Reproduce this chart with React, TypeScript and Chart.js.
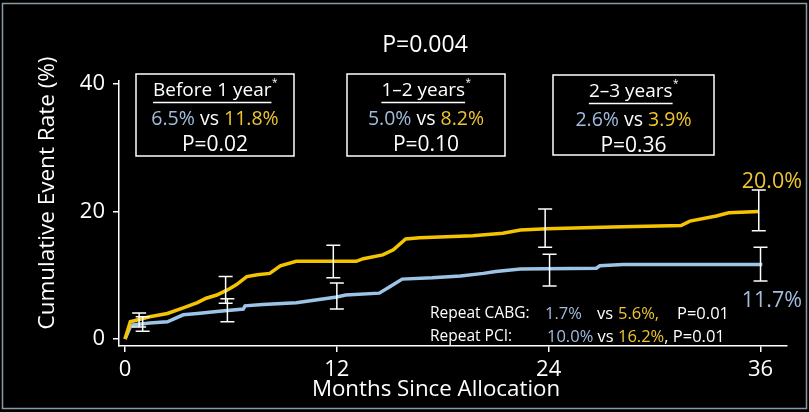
import React, { useEffect, useRef } from "react";
import { Chart, registerables } from "chart.js";

Chart.register(...registerables);

// ---- data ----
const yellowMonths = [0, 0.3, 1.4, 2.4, 3.3, 4.1, 4.6, 5.2, 5.8, 6.3, 6.9, 7.5, 8.2, 8.8, 9.7, 13.1, 13.5, 14.6, 15.2, 15.9, 16.7, 19.7, 21.4, 22.4, 23.9, 27.6, 31.5, 32.0, 33.5, 34.2, 35.9];
const yellowRates = [0, 2.7, 3.5, 4.0, 4.9, 5.7, 6.4, 6.9, 7.7, 8.5, 9.8, 10.1, 10.3, 11.5, 12.2, 12.2, 12.6, 13.2, 14.0, 15.7, 15.9, 16.2, 16.6, 17.1, 17.3, 17.6, 17.8, 18.5, 19.3, 19.8, 20.0];

const blueMonths = [0, 0.3, 0.45, 1.4, 2.4, 3.3, 4.1, 5.2, 6.7, 6.8, 7.8, 9.7, 12.0, 12.5, 14.4, 15.0, 15.7, 17.4, 19.0, 20.3, 21.0, 22.4, 26.7, 26.9, 28.2, 36.1];
const blueRates = [0, 1.9, 2.2, 2.5, 2.7, 3.8, 4.0, 4.3, 4.7, 5.2, 5.4, 5.7, 6.6, 6.9, 7.2, 8.2, 9.4, 9.6, 9.9, 10.3, 10.6, 11.0, 11.1, 11.5, 11.7, 11.7];

const yellowErrMonths = [0.8, 5.7, 11.8, 23.8, 35.9];
const yellowErrLow = [1.9, 5.6, 9.6, 14.4, 17.0];
const yellowErrHigh = [4.1, 9.8, 14.7, 20.4, 23.4];

const blueErrMonths = [1.0, 5.8, 12.0, 24.05, 36.0];
const blueErrLow = [1.2, 2.7, 4.7, 8.3, 9.1];
const blueErrHigh = [3.5, 6.3, 8.8, 13.3, 14.4];

const xTicks = [0, 12, 24, 36];
const yTicks = [0, 20, 40];

const boxHeadings = ["Before 1 year", "1\u20132 years", "2\u20133 years"];
const boxBlue = ["6.5%", "5.0%", "2.6%"];
const boxYellow = ["11.8%", "8.2%", "3.9%"];
const boxP = ["P=0.02", "P=0.10", "P=0.36"];

const YELLOW = "#F5C400";
const BLUE = "#9DC3E6";
const YELLOW_TXT = "#EEC530";
const BLUE_TXT = "#A2BCDD";
const FONT = "'Open Sans', Lato, sans-serif";

export default function App() {
  const ref = useRef<HTMLCanvasElement | null>(null);

  useEffect(() => {
    document.body.style.margin = "0";
    const canvas = ref.current!;

    const bgPlugin = {
      id: "bg",
      beforeDraw(chart: any) {
        const c = chart.ctx;
        c.save();
        c.fillStyle = "#000";
        c.fillRect(0, 0, chart.width, chart.height);
        c.restore();
      },
    };

    const errPlugin = {
      id: "errbars",
      afterDatasetsDraw(chart: any) {
        const c = chart.ctx;
        const xs = chart.scales.x;
        const ys = chart.scales.y;
        c.save();
        c.strokeStyle = "#fff";
        c.lineWidth = 1.5;
        const draw = (ms: number[], lo: number[], hi: number[]) => {
          ms.forEach((m, i) => {
            const x = xs.getPixelForValue(m);
            const y1 = ys.getPixelForValue(lo[i]);
            const y2 = ys.getPixelForValue(hi[i]);
            c.beginPath();
            c.moveTo(x, y1);
            c.lineTo(x, y2);
            c.moveTo(x - 7, y1);
            c.lineTo(x + 7, y1);
            c.moveTo(x - 7, y2);
            c.lineTo(x + 7, y2);
            c.stroke();
          });
        };
        draw(yellowErrMonths, yellowErrLow, yellowErrHigh);
        draw(blueErrMonths, blueErrLow, blueErrHigh);
        c.restore();
      },
    };

    const textPlugin = {
      id: "texts",
      afterDraw(chart: any) {
        const c = chart.ctx;
        c.save();
        c.textBaseline = "middle";
        const txt = (s: string, x: number, y: number, color: string, size: number, align: CanvasTextAlign = "left") => {
          c.font = `${size}px ${FONT}`;
          c.fillStyle = color;
          c.textAlign = align;
          c.fillText(s, x, y);
          return c.measureText(s).width;
        };
        // frame
        c.strokeStyle = "#8A9BA8";
        c.lineWidth = 1.5;
        c.strokeRect(2.5, 3.5, 804, 405);

        // title
        txt("P=0.004", 425, 45, "#fff", 23, "center");

        // axis titles
        c.save();
        c.translate(48, 193);
        c.rotate(-Math.PI / 2);
        txt("Cumulative Event Rate (%)", 0, 0, "#fff", 22.5, "center");
        c.restore();
        txt("Months Since Allocation", 436, 390, "#fff", 22.3, "center");

        // boxes
        const boxes = [
          [136, 74, 158, 82],
          [347, 74, 158, 82],
          [553, 75, 161, 80],
        ];
        const hf = 19;
        const vf = 19.5;
        const pf = 21;
        boxes.forEach((b, i) => {
          c.strokeStyle = "#fff";
          c.lineWidth = 1.5;
          c.strokeRect(b[0], b[1], b[2], b[3]);
          const cx = b[0] + b[2] / 2;
          // heading with underline and asterisk
          c.font = `${hf}px ${FONT}`;
          const hw = c.measureText(boxHeadings[i]).width;
          c.font = `10px ${FONT}`;
          const aw = c.measureText("*").width;
          const startX = cx - (hw + aw) / 2;
          txt(boxHeadings[i], startX, b[1] + 17, "#fff", hf);
          txt("*", startX + hw + 0.5, b[1] + 9, "#fff", 10);
          c.strokeStyle = "#fff";
          c.lineWidth = 1.3;
          c.beginPath();
          c.moveTo(startX, b[1] + 28.5);
          c.lineTo(startX + hw, b[1] + 28.5);
          c.stroke();
          // values line
          const parts: [string, string][] = [
            [boxBlue[i], BLUE_TXT],
            [" vs ", "#fff"],
            [boxYellow[i], YELLOW_TXT],
          ];
          c.font = `${vf}px ${FONT}`;
          const tw = parts.reduce((a, p) => a + c.measureText(p[0]).width, 0);
          let x = cx - tw / 2;
          parts.forEach((p) => {
            x += txt(p[0], x, b[1] + 45, p[1], vf);
          });
          txt(boxP[i], cx, b[1] + 71, "#fff", pf, "center");
        });

        // end labels
        txt("20.0%", 802, 182, YELLOW_TXT, 21.5, "right");
        txt("11.7%", 802, 301, BLUE_TXT, 21.5, "right");

        // bottom annotations
        const fs = 16.5;
        txt("Repeat CABG:", 430, 314, "#fff", 15.5);
        txt("1.7%", 545, 314, BLUE_TXT, fs);
        txt("vs", 597, 314, "#fff", fs);
        txt("5.6%,", 618, 314, YELLOW_TXT, fs);
        txt("P=0.01", 677, 314, "#fff", fs);
        txt("Repeat PCI:", 430, 337, "#fff", 15.5);
        let x2 = 547;
        x2 += txt("10.0%", x2, 337, BLUE_TXT, fs);
        x2 += txt(" vs ", x2, 337, "#fff", fs);
        x2 += txt("16.2%", x2, 337, YELLOW_TXT, fs);
        txt(", P=0.01", x2, 337, "#fff", fs);
        c.restore();
      },
    };

    const chart = new Chart(canvas, {
      type: "line",
      data: {
        datasets: [
          {
            label: "Yellow",
            data: yellowMonths.map((m, i) => ({ x: m, y: yellowRates[i] })),
            borderColor: YELLOW,
            borderWidth: 3.5,
            pointRadius: 0,
            tension: 0,
          },
          {
            label: "Blue",
            data: blueMonths.map((m, i) => ({ x: m, y: blueRates[i] })),
            borderColor: BLUE,
            borderWidth: 3.5,
            pointRadius: 0,
            tension: 0,
          },
        ],
      },
      options: {
        animation: false,
        responsive: false,
        layout: { padding: { top: 81, right: 22, left: 0, bottom: 0 } },
        plugins: { legend: { display: false }, tooltip: { enabled: false } },
        scales: {
          x: {
            type: "linear",
            min: -0.34,
            max: 37.5,
            afterBuildTicks: (s: any) => {
              s.ticks = xTicks.map((v) => ({ value: v }));
            },
            afterFit: (s: any) => {
              s.height = 66;
            },
            grid: { drawOnChartArea: false, drawTicks: true, tickLength: 6, color: "#fff", lineWidth: 1.5 },
            border: { color: "#fff", width: 1.5 },
            ticks: { color: "#fff", font: { size: 22, family: FONT }, padding: 5, maxRotation: 0 },
          },
          y: {
            min: -1.1,
            max: 40.5,
            afterBuildTicks: (s: any) => {
              s.ticks = yTicks.map((v) => ({ value: v }));
            },
            afterFit: (s: any) => {
              s.width = 119;
            },
            grid: { drawOnChartArea: false, drawTicks: true, tickLength: 6, color: "#fff", lineWidth: 1.5 },
            border: { color: "#fff", width: 1.5 },
            ticks: { color: "#fff", font: { size: 22, family: FONT }, padding: 8 },
          },
        },
      },
      plugins: [bgPlugin, errPlugin, textPlugin],
    } as any);

    return () => chart.destroy();
  }, []);

  return (
    <canvas
      ref={ref}
      width={809}
      height={412}
      style={{ position: "fixed", left: 0, top: 0, width: 809, height: 412 }}
    />
  );
}
